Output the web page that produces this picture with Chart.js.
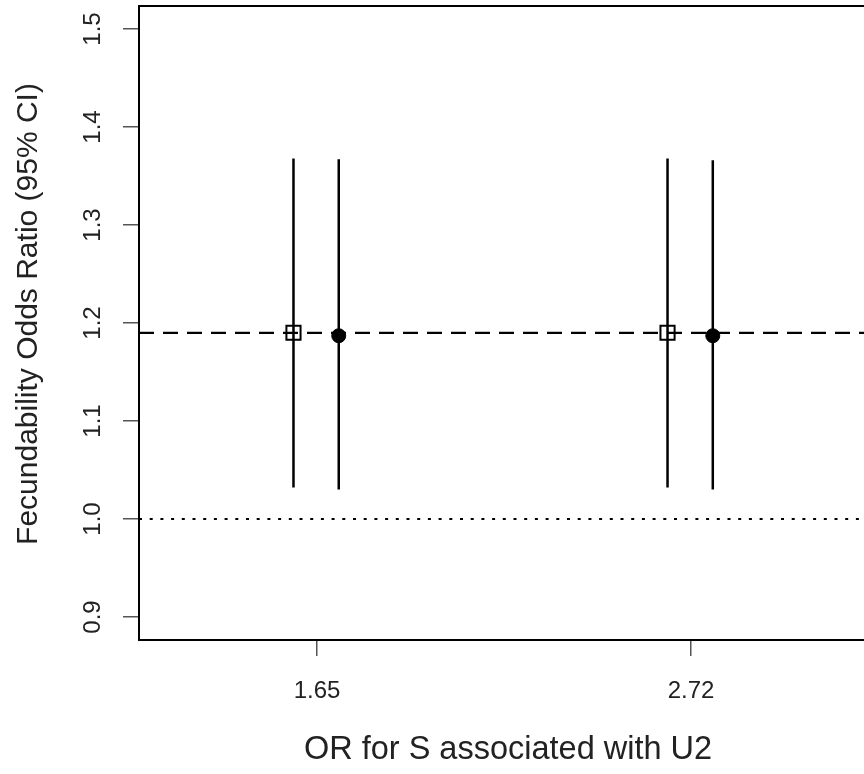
<!DOCTYPE html>
<html>
<head>
<meta charset="utf-8">
<script src="https://cdn.jsdelivr.net/npm/chart.js@4/dist/chart.umd.min.js"></script>
<style>
  html, body { margin: 0; padding: 0; background: #fff; overflow: hidden; }
  #wrap { width: 880px; height: 774px; }
</style>
</head>
<body>
<div id="wrap"><canvas id="chart"></canvas></div>
<script>
// categories on the x axis
const xLabels = ['1.65', '2.72'];
const yTicks = [0.9, 1.0, 1.1, 1.2, 1.3, 1.4, 1.5];

// open squares
const squareOR = [1.19, 1.19];
const squareLo = [1.032, 1.032];
const squareHi = [1.368, 1.368];

// filled circles
const circleOR = [1.187, 1.187];
const circleLo = [1.030, 1.030];
const circleHi = [1.367, 1.366];

// reference lines
const dashedRef = 1.19;
const dottedRef = 1.0;

const xTitle = 'OR for S associated with U2';
const yTitle = 'Fecundability Odds Ratio (95% CI)';

const sqShift = -0.063, ciShift = 0.058;
const xMin = 0.524, xMax = 2.497;
const font = "'Liberation Sans', Arial, sans-serif";

const datasets = [];
xLabels.forEach((lab, i) => {
  datasets.push({
    type: 'scatter', data: [{ x: i + 1 + sqShift, y: squareOR[i] }],
    pointStyle: 'rect', pointRadius: 10, pointBorderWidth: 2,
    pointBorderColor: '#000', pointBackgroundColor: 'rgba(0,0,0,0)',
  });
  datasets.push({
    type: 'scatter', data: [{ x: i + 1 + ciShift, y: circleOR[i] }],
    pointStyle: 'circle', pointRadius: 7, pointBorderWidth: 1,
    pointBorderColor: '#000', pointBackgroundColor: '#000',
  });
});
xLabels.forEach((lab, i) => {
  datasets.push({
    type: 'line', data: [{ x: i + 1 + sqShift, y: squareLo[i] }, { x: i + 1 + sqShift, y: squareHi[i] }],
    borderColor: '#000', borderWidth: 2.5, pointRadius: 0,
  });
  datasets.push({
    type: 'line', data: [{ x: i + 1 + ciShift, y: circleLo[i] }, { x: i + 1 + ciShift, y: circleHi[i] }],
    borderColor: '#000', borderWidth: 2.5, pointRadius: 0,
  });
});
datasets.push({
  type: 'line', data: [{ x: xMin, y: dashedRef }, { x: xMax, y: dashedRef }],
  borderColor: '#000', borderWidth: 2.2, borderDash: [15, 9], pointRadius: 0,
});
datasets.push({
  type: 'line', data: [{ x: xMin, y: dottedRef }, { x: xMax, y: dottedRef }],
  borderColor: '#000', borderWidth: 2.2, borderDash: [3, 7.7], pointRadius: 0,
});

const frame = {
  id: 'frame',
  afterDraw(chart) {
    const { ctx, chartArea: a, scales } = chart;
    ctx.save();
    ctx.strokeStyle = '#000';
    ctx.lineWidth = 2;
    ctx.strokeRect(a.left, a.top, a.right - a.left, a.bottom - a.top);
    ctx.fillStyle = '#222';
    ctx.textAlign = 'center';
    ctx.textBaseline = 'middle';
    // rotated y tick labels
    ctx.font = '24px ' + font;
    yTicks.forEach((v) => {
      const y = scales.y.getPixelForValue(v);
      ctx.save();
      ctx.translate(93, y);
      ctx.rotate(-Math.PI / 2);
      ctx.fillText(v.toFixed(1), 0, 0);
      ctx.restore();
    });
    // axis titles
    ctx.font = '32.5px ' + font;
    ctx.fillText(xTitle, (a.left + a.right) / 2, 750);
    ctx.save();
    ctx.translate(29, 314);
    ctx.rotate(-Math.PI / 2);
    ctx.font = '30px ' + font;
    ctx.fillText(yTitle, 0, 0);
    ctx.restore();
    ctx.restore();
  },
};

new Chart(document.getElementById('chart'), {
  data: { datasets },
  options: {
    responsive: true,
    maintainAspectRatio: false,
    animation: false,
    layout: { autoPadding: false, padding: { top: 6, right: 3, left: 0, bottom: 0 } },
    plugins: { legend: { display: false }, tooltip: { enabled: false } },
    scales: {
      x: {
        type: 'linear', min: xMin, max: xMax,
        afterBuildTicks: (s) => { s.ticks = xLabels.map((l, i) => ({ value: i + 1 })); },
        afterFit: (s) => { s.height = 134; s.paddingLeft = 0; s.paddingRight = 0; },
        ticks: {
          callback: (v) => xLabels[v - 1] || '',
          color: '#222', font: { family: font, size: 24 }, padding: 21, maxRotation: 0,
        },
        grid: { drawOnChartArea: false, drawTicks: true, tickLength: 16, color: '#555', lineWidth: 1.5 },
        border: { display: false },
      },
      y: {
        type: 'linear', min: 0.8765, max: 1.5235,
        afterBuildTicks: (s) => { s.ticks = yTicks.map((v) => ({ value: v })); },
        afterFit: (s) => { s.width = 139; s.paddingTop = 0; s.paddingBottom = 0; },
        ticks: { display: false },
        grid: { drawOnChartArea: false, drawTicks: true, tickLength: 16, color: '#555', lineWidth: 1.5 },
        border: { display: false },
      },
    },
  },
  plugins: [frame],
});
</script>
</body>
</html>
